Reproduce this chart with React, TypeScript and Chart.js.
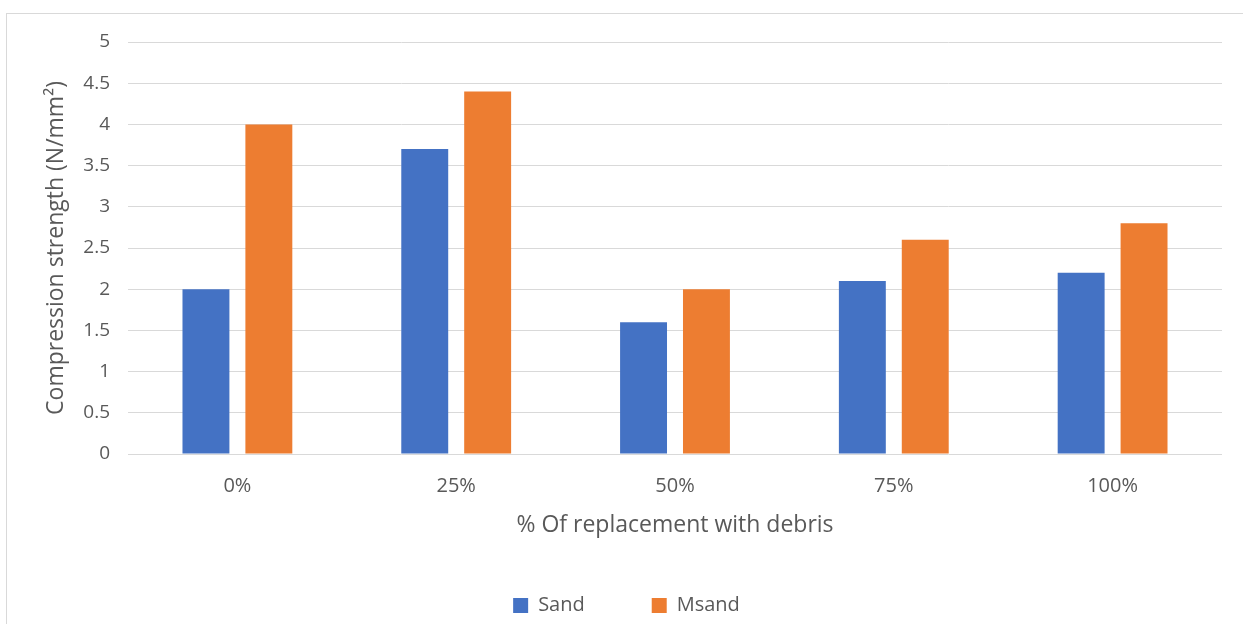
import React, { useEffect, useRef } from "react";
import { Chart, registerables } from "chart.js";

Chart.register(...registerables);

const categories = ["0%", "25%", "50%", "75%", "100%"];
const sandValues = [2, 3.7, 1.6, 2.1, 2.2];
const msandValues = [4, 4.4, 2, 2.6, 2.8];
const seriesNames = ["Sand", "Msand"];
const yTitle = "Compression strength (N/mm²)";
const xTitle = "% Of replacement with debris";

const FONT = "'Open Sans', 'Noto Sans', sans-serif";
const TEXT = "#595959";
const LEGEND_PAD = 67;

const legendPlacer = {
  id: "legendPlacer",
  beforeLayout(chart: any) {
    const lg = chart.legend;
    if (lg && !lg.__wrapped) {
      const orig = lg.fit.bind(lg);
      lg.fit = function () {
        orig();
        lg.height = 624 - 454 - 85;
      };
      lg.__wrapped = true;
    }
  },
  afterLayout(chart: any) {
    const lg = chart.legend;
    if (lg) {
      const h = lg.height;
      lg.top = 595.5 - LEGEND_PAD;
      lg.bottom = lg.top + h;
      lg.left -= 6;
      lg.right -= 6;
    }
  },
};

export default function App() {
  const ref = useRef<HTMLCanvasElement | null>(null);

  useEffect(() => {
    if (!ref.current) return;
    const chart = new Chart(ref.current, {
      type: "bar",
      data: {
        labels: categories,
        datasets: [
          {
            label: seriesNames[0],
            data: sandValues,
            backgroundColor: "#4472C4",
            categoryPercentage: 0.575,
            barPercentage: 0.746,
          },
          {
            label: seriesNames[1],
            data: msandValues,
            backgroundColor: "#ED7D31",
            categoryPercentage: 0.575,
            barPercentage: 0.746,
          },
        ],
      },
      plugins: [legendPlacer],
      options: {
        animation: false,
        responsive: false,
        maintainAspectRatio: false,
        layout: { padding: { left: 43, top: 42, right: 21, bottom: 0 } },
        plugins: {
          tooltip: { enabled: false },
          legend: {
            position: "bottom",
            labels: {
              boxWidth: 15,
              boxHeight: 15,
              padding: LEGEND_PAD,
              color: TEXT,
              font: { family: FONT, size: 20 },
            },
          },
        },
        scales: {
          x: {
            grid: { display: false, drawTicks: false },
            border: { display: false },
            ticks: {
              color: TEXT,
              padding: 20,
              font: { family: FONT, size: 20 },
            },
            title: {
              display: true,
              text: xTitle,
              color: TEXT,
              padding: 0,
              font: { family: FONT, size: 23 },
            },
            afterFit: (s: any) => {
              s.height = 85;
            },
          },
          y: {
            min: 0,
            max: 5,
            grid: { color: "#d9d9d9", drawTicks: false, lineWidth: 1 },
            border: { display: false },
            ticks: {
              stepSize: 0.5,
              color: TEXT,
              padding: 18,
              font: { family: FONT, size: 19 },
              callback: (v: any) => String(Number(v)),
            },
            title: {
              display: true,
              text: yTitle,
              color: TEXT,
              padding: 0,
              font: { family: FONT, size: 23 },
            },
            afterFit: (s: any) => {
              s.width = 85;
            },
          },
        },
      },
    });
    return () => chart.destroy();
  }, []);

  return (
    <div style={{ position: "fixed", left: 0, top: 0, width: 1243, height: 624, background: "#fff" }}>
      <div
        style={{
          position: "absolute",
          left: 6,
          top: 13,
          width: 1300,
          height: 700,
          borderTop: "1px solid #d9d9d9",
          borderLeft: "1px solid #d9d9d9",
        }}
      />
      <canvas ref={ref} width={1243} height={624} style={{ position: "absolute", left: 0, top: 0 }} />
    </div>
  );
}
